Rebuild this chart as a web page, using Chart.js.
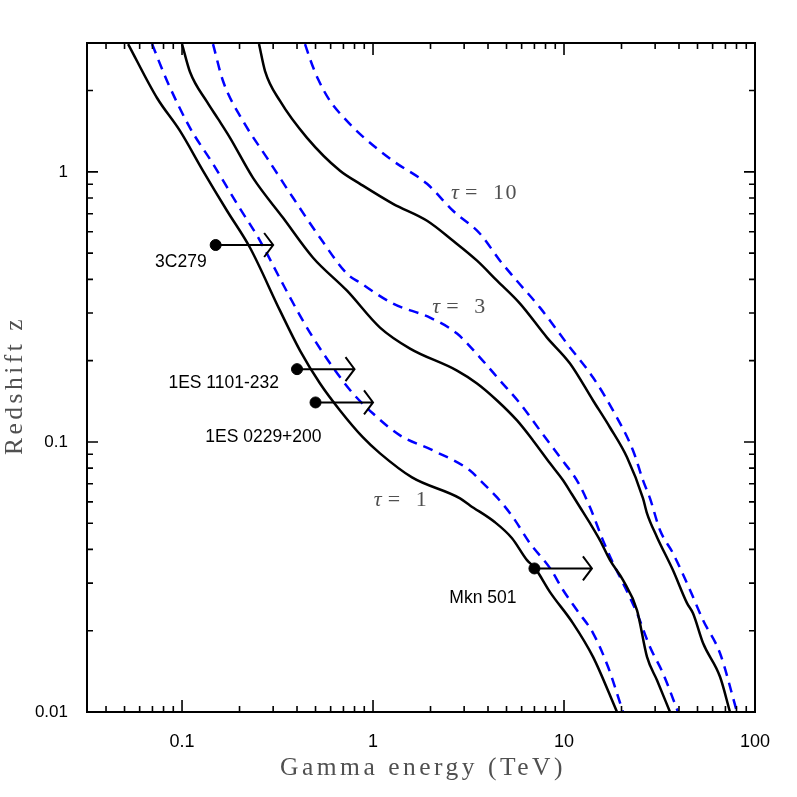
<!DOCTYPE html>
<html>
<head>
<meta charset="utf-8">
<script src="https://cdn.jsdelivr.net/npm/chart.js@4"></script>
<style>
body { margin: 0; background: #fff; }
</style>
</head>
<body>
<canvas id="myChart" width="797" height="797"></canvas>
<script>
// axis ranges and tick labels
const xMin = 0.0318, xMax = 100;
const yMin = 0.01, yMax = 3;
const xTickValues = [0.1, 1, 10, 100];
const xTickLabels = ["0.1", "1", "10", "100"];
const yTickValues = [0.01, 0.1, 1];
const yTickLabels = ["0.01", "0.1", "1"];

// tau = 1 (solid / dashed), E in TeV, z
const tau1SolidE = [0.0522, 0.0740, 0.0976, 0.1288, 0.1720, 0.2270, 0.3259, 0.4148, 0.5279, 0.6718, 0.8862, 1.088, 1.600, 2.855, 3.220, 4.352, 5.343, 6.401, 7.050, 8.447, 11.15, 14.19, 18.95];
const tau1SolidZ = [2.973, 1.877, 1.418, 1.009, 0.7177, 0.5236, 0.3063, 0.2179, 0.1646, 0.1308, 0.1039, 0.0907, 0.0739, 0.0618, 0.0582, 0.0504, 0.0440, 0.0365, 0.0341, 0.0278, 0.0213, 0.0160, 0.0100];
const tau1DashE = [0.0697, 0.0835, 0.1101, 0.1453, 0.1941, 0.2561, 0.3259, 0.4148, 0.4852, 0.6173, 0.7856, 1.000, 1.384, 2.061, 3.220, 3.633, 4.460, 5.408, 6.637, 8.447, 9.881, 11.70, 14.19, 17.00, 20.37];
const tau1DashZ = [2.973, 2.170, 1.455, 1.070, 0.7615, 0.5557, 0.4022, 0.2935, 0.2434, 0.1886, 0.1511, 0.1274, 0.1057, 0.0930, 0.0784, 0.0721, 0.0623, 0.0526, 0.0421, 0.0341, 0.0283, 0.0238, 0.0196, 0.0147, 0.0100];

// tau = 3
const tau3SolidE = [0.1000, 0.1101, 0.1352, 0.1544, 0.1784, 0.2353, 0.3379, 0.4852, 0.7307, 1.088, 1.562, 2.753, 3.504, 4.460, 5.675, 6.882, 8.447, 9.881, 11.00, 12.13, 13.68, 15.44, 17.41, 20.37, 24.12, 27.20, 30.69, 35.89];
const tau3SolidZ = [2.973, 2.342, 1.815, 1.570, 1.336, 0.950, 0.676, 0.481, 0.363, 0.265, 0.2216, 0.1837, 0.1646, 0.1424, 0.1201, 0.1013, 0.0833, 0.0721, 0.0640, 0.0573, 0.0500, 0.0432, 0.0365, 0.0308, 0.0238, 0.0160, 0.0131, 0.0100];
const tau3DashE = [0.1453, 0.1639, 0.2086, 0.2786, 0.3813, 0.5279, 0.7307, 0.8548, 1.273, 1.988, 2.753, 3.633, 4.623, 5.885, 7.486, 9.530, 11.84, 13.68, 16.00, 18.05, 20.37, 24.12, 28.20, 32.99, 39.54];
const tau3DashZ = [2.973, 2.170, 1.543, 1.126, 0.8015, 0.5702, 0.4197, 0.3887, 0.3251, 0.2886, 0.2519, 0.2053, 0.1688, 0.1388, 0.1103, 0.0877, 0.0709, 0.0573, 0.0432, 0.0356, 0.0300, 0.0232, 0.0174, 0.0139, 0.0100];

// tau = 10
const tau10SolidE = [0.2530, 0.2720, 0.3259, 0.4513, 0.6718, 0.8548, 1.273, 1.918, 2.624, 3.504, 4.460, 5.885, 8.147, 10.75, 14.19, 17.41, 21.37, 25.92, 27.20, 30.69, 37.21, 44.06, 47.36, 53.43, 65.59, 73.98];
const tau10SolidZ = [2.973, 2.362, 1.830, 1.336, 1.009, 0.903, 0.7615, 0.659, 0.5557, 0.469, 0.3954, 0.3251, 0.2434, 0.1951, 0.1424, 0.1131, 0.0877, 0.0618, 0.0544, 0.0444, 0.0335, 0.0253, 0.0232, 0.0180, 0.0135, 0.0100];
const tau10DashE = [0.4406, 0.4680, 0.5153, 0.5955, 0.7136, 0.8757, 1.273, 1.918, 2.624, 3.633, 4.623, 5.540, 7.486, 10.37, 14.19, 18.05, 22.98, 25.92, 28.20, 31.82, 37.21, 45.67, 53.43, 65.59, 80.49];
const tau10DashZ = [2.973, 2.617, 2.207, 1.830, 1.570, 1.359, 1.098, 0.903, 0.7177, 0.590, 0.469, 0.4022, 0.3142, 0.2312, 0.1732, 0.1308, 0.0930, 0.0721, 0.0618, 0.0471, 0.0387, 0.0283, 0.0219, 0.0165, 0.0100];

// sources (lower limits with arrows)
const sourceNames = ["3C279", "1ES 1101-232", "1ES 0229+200", "Mkn 501"];
const sourceE = [0.15, 0.40, 0.50, 7.0];
const sourceZ = [0.536, 0.186, 0.140, 0.034];
const arrowE = [0.30, 0.80, 1.00, 14.0];
const sourceLabelOffset = [[-9, 22], [-18, 19], [6, 40], [-18, 35]];

// tau labels
const tauNames = ["10", "3", "1"];
const tauLabelE = [2.56, 2.04, 1.01];
const tauLabelZ = [0.795, 0.301, 0.0578];

function curve(label, es, zs, dashed) {
    return {
	label: label,
	type: "line",
	data: es.map(function (e, i) { return {x: e, y: zs[i]}; }),
	borderColor: dashed ? "#0000ff" : "#000000",
	borderWidth: 2.5,
	borderDash: dashed ? [10, 7] : [],
	pointRadius: 0,
	fill: false,
	cubicInterpolationMode: "monotone"
    };
}

// minor / major tick marks for a log axis
function logMarks(min, max) {
    var marks = [];
    for (let e = -3; e <= 3; e++) {
	for (let k = 1; k <= 9; k++) {
	    var v = k * Math.pow(10, e);
	    if (v > min * 1.001 && v < max * 0.999) {
		marks.push({v: v, major: k == 1});
	    }
	}
    }
    return marks;
}

const decorPlugin = {
    id: "decor",
    afterDatasetsDraw(chart) {
	const ctx = chart.ctx;
	const a = chart.chartArea;
	const xs = chart.scales.x, ys = chart.scales.y;
	ctx.save();
	// frame
	ctx.strokeStyle = "#000";
	ctx.lineWidth = 2;
	ctx.strokeRect(a.left, a.top, a.right - a.left, a.bottom - a.top);
	// ticks (inside, all four sides)
	ctx.lineWidth = 1.6;
	ctx.beginPath();
	logMarks(xMin, xMax).forEach(function (m) {
	    const px = xs.getPixelForValue(m.v);
	    const len = m.major ? 12 : 6;
	    ctx.moveTo(px, a.bottom); ctx.lineTo(px, a.bottom - len);
	    ctx.moveTo(px, a.top); ctx.lineTo(px, a.top + len);
	});
	logMarks(yMin, yMax).forEach(function (m) {
	    const py = ys.getPixelForValue(m.v);
	    const len = m.major ? 11 : 6;
	    ctx.moveTo(a.left, py); ctx.lineTo(a.left + len, py);
	    ctx.moveTo(a.right, py); ctx.lineTo(a.right - len, py);
	});
	ctx.stroke();

	// arrows and source names
	ctx.lineWidth = 2;
	ctx.fillStyle = "#000";
	ctx.font = "17.5px 'Liberation Sans', Arial, sans-serif";
	ctx.textAlign = "right";
	ctx.textBaseline = "alphabetic";
	for (let i = 0; i < sourceNames.length; i++) {
	    const x0 = xs.getPixelForValue(sourceE[i]);
	    const y0 = ys.getPixelForValue(sourceZ[i]);
	    const x1 = xs.getPixelForValue(arrowE[i]);
	    ctx.beginPath();
	    ctx.moveTo(x0, y0); ctx.lineTo(x1, y0);
	    ctx.moveTo(x1 - 9, y0 - 12); ctx.lineTo(x1, y0); ctx.lineTo(x1 - 9, y0 + 12);
	    ctx.stroke();
	    ctx.fillText(sourceNames[i], x0 + sourceLabelOffset[i][0], y0 + sourceLabelOffset[i][1]);
	}

	// tau labels
	ctx.fillStyle = "#505050";
	ctx.textAlign = "left";
	for (let i = 0; i < tauNames.length; i++) {
	    const tx = xs.getPixelForValue(tauLabelE[i]);
	    const ty = ys.getPixelForValue(tauLabelZ[i]);
	    ctx.letterSpacing = "0px";
	    ctx.font = "italic 22px 'Liberation Serif', serif";
	    ctx.fillText("\u03c4", tx, ty);
	    ctx.font = "22px 'Liberation Serif', serif";
	    ctx.fillText("=", tx + 14, ty);
	    ctx.letterSpacing = "1.5px";
	    ctx.fillText(tauNames[i], tx + 42, ty);
	}

	// axis titles
	ctx.fillStyle = "#505050";
	ctx.font = "25.5px 'Liberation Serif', serif";
	ctx.letterSpacing = "3.5px";
	ctx.textAlign = "center";
	ctx.textBaseline = "middle";
	ctx.fillText("Gamma energy (TeV)", (a.left + a.right) / 2 + 2, 768);
	ctx.translate(15, (a.top + a.bottom) / 2 + 8);
	ctx.rotate(-Math.PI / 2);
	ctx.fillText("Redshift z", 0, 0);
	ctx.restore();
    }
};

const myChart = new Chart(document.getElementById("myChart").getContext("2d"), {
    data: {
	datasets: [
	    curve("tau=1", tau1SolidE, tau1SolidZ, false),
	    curve("tau=1 dashed", tau1DashE, tau1DashZ, true),
	    curve("tau=3", tau3SolidE, tau3SolidZ, false),
	    curve("tau=3 dashed", tau3DashE, tau3DashZ, true),
	    curve("tau=10", tau10SolidE, tau10SolidZ, false),
	    curve("tau=10 dashed", tau10DashE, tau10DashZ, true),
	    {
		label: "sources",
		type: "scatter",
		data: sourceE.map(function (e, i) { return {x: e, y: sourceZ[i]}; }),
		backgroundColor: "#000",
		borderColor: "#000",
		pointRadius: 5.5
	    }
	]
    },
    options: {
	responsive: false,
	animation: false,
	devicePixelRatio: 1,
	events: [],
	layout: { padding: { top: 43, right: 42, left: 0, bottom: 0 } },
	plugins: { legend: { display: false }, tooltip: { enabled: false } },
	scales: {
	    x: {
		type: "logarithmic",
		position: "bottom",
		min: xMin,
		max: xMax,
		afterBuildTicks: function (s) { s.ticks = xTickValues.map(function (v) { return {value: v}; }); },
		afterFit: function (s) { s.height = 85; },
		ticks: {
		    autoSkip: false,
		    maxRotation: 0,
		    padding: 11,
		    color: "#000",
		    font: { family: "'Liberation Sans', Arial, sans-serif", size: 18 },
		    callback: function (v, i) { return xTickLabels[i]; }
		},
		grid: { display: false },
		border: { display: false }
	    },
	    y: {
		type: "logarithmic",
		position: "left",
		min: yMin,
		max: yMax,
		afterBuildTicks: function (s) { s.ticks = yTickValues.map(function (v) { return {value: v}; }); },
		afterFit: function (s) { s.width = 87; },
		ticks: {
		    autoSkip: false,
		    padding: 11,
		    color: "#000",
		    font: { family: "'Liberation Sans', Arial, sans-serif", size: 17 },
		    callback: function (v, i) { return yTickLabels[i]; }
		},
		grid: { display: false },
		border: { display: false }
	    }
	}
    },
    plugins: [decorPlugin]
});
</script>
</body>
</html>
